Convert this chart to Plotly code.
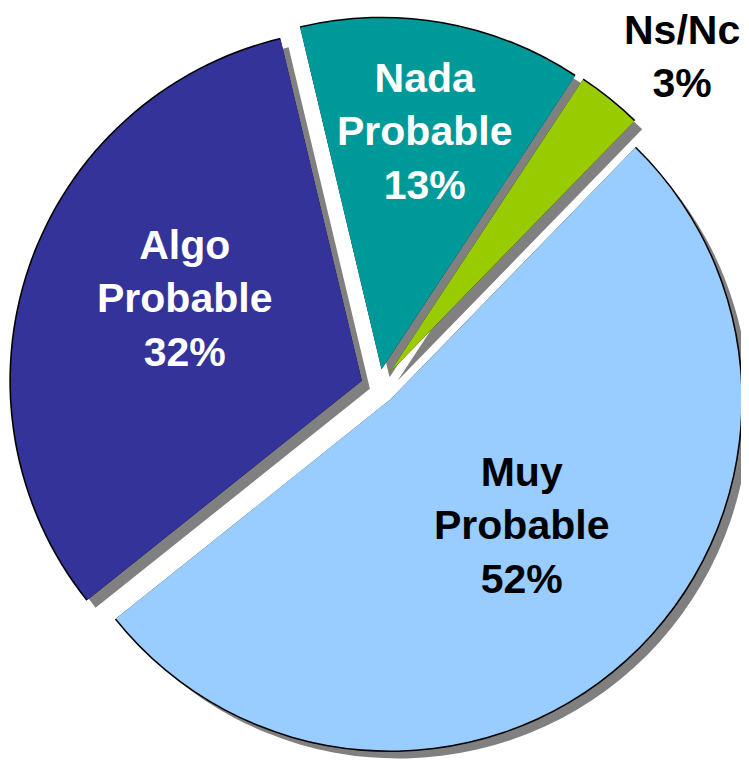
import plotly.graph_objects as go

labels = ["Muy Probable", "Algo Probable", "Nada Probable", "Ns/Nc"]
values = [52, 32, 13, 3]
colors = ["#99CCFF", "#333399", "#009999", "#99CC00"]
text_colors = ["black", "white", "white", "black"]

# the page body has an 8px margin; the figure is a bit larger than the
# window so the drop shadow gets clipped at the right edge like the original
W, H = 760, 770
R = 351            # pie radius in px
CX, CY = 370.5, 378.5
PULL = 0.05
SHADOW = 8


def domain(cx, cy, r):
    half = r * (1 + PULL)
    return dict(x=[(cx - half) / W, (cx + half) / W],
                y=[1 - (cy + half) / H, 1 - (cy - half) / H])


def pie(dom, fill):
    return go.Pie(
        labels=labels, values=values, sort=False, direction="clockwise",
        rotation=44.2, pull=[PULL] * len(values), domain=dom,
        marker=dict(colors=fill, line=dict(width=0)),
        textinfo="none", hoverinfo="skip", showlegend=False,
    )


fig = go.Figure()
# gray drop shadow
fig.add_trace(pie(domain(CX + SHADOW, CY + SHADOW, R), ["#808080"] * 4))
# black rim (slightly bigger pie under the coloured one)
fig.add_trace(pie(domain(CX, CY, R + 1.5), ["#000000"] * 4))
fig.add_trace(pie(domain(CX, CY, R), colors))

# label centres (px, figure coords)
label_pos = [(513, 517), (176, 290), (416, 123), (674, 48)]
for lab, v, tc, (px, py) in zip(labels, values, text_colors, label_pos):
    fig.add_annotation(
        x=px / W, y=1 - py / H, xref="paper", yref="paper",
        text="<br>".join(lab.split(" ")) + f"<br>{v}%",
        showarrow=False, xanchor="center", yanchor="middle",
        font=dict(family="Liberation Sans", size=41, color=tc, weight="bold"),
    )

fig.update_layout(
    width=W, height=H, margin=dict(l=0, r=0, t=0, b=0),
    paper_bgcolor="white", plot_bgcolor="white",
)

fig.write_html("out.html")
